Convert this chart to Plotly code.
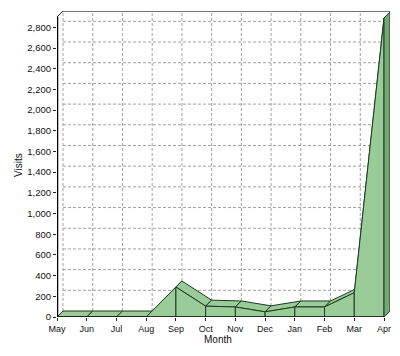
import plotly.graph_objects as go

months = ["May", "Jun", "Jul", "Aug", "Sep", "Oct", "Nov", "Dec", "Jan", "Feb", "Mar", "Apr"]
visits = [0, 0, 0, 0, 290, 105, 97, 50, 97, 97, 235, 2890]
y_ticks = list(range(0, 2801, 200))
y_max = 2900

# page body has an 8px margin, so the figure is drawn 8px in from the window
OFF = 8
W, H = 400 - 2 * OFF, 356 - 2 * OFF
L, R, T, B = 57 - OFF, W - (390 - OFF), 11 - OFF, H - (317 - OFF)
DEPTH_PX = 6

n = len(months)
plot_w = W - L - R
plot_h = H - T - B
px_per_x = (plot_w - DEPTH_PX) / (n - 1)
px_per_y = (plot_h - DEPTH_PX) / y_max
dx = DEPTH_PX / px_per_x
dy = DEPTH_PX / px_per_y

FILL = "#99cc99"
SIDE = "#72a872"
EDGE = "#1e3a1e"
GRID = "#a0a0a0"

fig = go.Figure()

def poly(xs, ys, color):
    fig.add_trace(go.Scatter(
        x=xs + [xs[0]], y=ys + [ys[0]], mode="lines", fill="toself",
        fillcolor=color, line=dict(color=EDGE, width=1),
        hoverinfo="skip", showlegend=False))

# top faces
for i in range(n - 1):
    a, b = visits[i], visits[i + 1]
    poly([i, i + 1, i + 1 + dx, i + dx], [a, b, b + dy, a + dy], FILL)
# front faces
for i in range(n - 1):
    a, b = visits[i], visits[i + 1]
    poly([i, i, i + 1, i + 1], [0, a, b, 0], FILL)
# right end face
last = visits[-1]
poly([n - 1, n - 1, n - 1 + dx, n - 1 + dx], [0, last, last + dy, dy], SIDE)

shapes = []
dash = "3px,2px"
# back wall grid
for v in y_ticks[1:]:
    shapes.append(dict(type="line", layer="below", x0=dx, x1=n - 1 + dx, y0=v + dy, y1=v + dy,
                       line=dict(color=GRID, width=1, dash=dash)))
for i in range(0, n - 1):
    shapes.append(dict(type="line", layer="below", x0=i + dx, x1=i + dx, y0=dy, y1=y_max + dy,
                       line=dict(color=GRID, width=1, dash=dash)))
shapes.append(dict(type="line", layer="below", x0=n - 1 + dx, x1=n - 1 + dx, y0=dy, y1=y_max + dy,
                   line=dict(color="#333333", width=1, dash="2px,1px")))
# top edge of wall
shapes.append(dict(type="line", layer="below", x0=dx, x1=n - 1 + dx, y0=y_max + dy, y1=y_max + dy,
                   line=dict(color="#444444", width=1.5)))
# left wall edge
shapes.append(dict(type="line", layer="above", x0=0, x1=0, y0=0, y1=y_max,
                   line=dict(color="#000000", width=2.5)))
shapes.append(dict(type="line", layer="above", x0=0, x1=dx, y0=y_max, y1=y_max + dy,
                   line=dict(color="#222222", width=1)))
# front bottom edge
shapes.append(dict(type="line", layer="above", x0=0, x1=n - 1, y0=0, y1=0,
                   line=dict(color="#1a1a1a", width=1.5)))

font_family = "Liberation Sans, Arial, sans-serif"

fig.update_layout(
    width=W, height=H,
    margin=dict(l=L, r=R, t=T, b=B, pad=0, autoexpand=False),
    paper_bgcolor="white", plot_bgcolor="white",
    shapes=shapes,
    font=dict(family=font_family, size=9, color="#111111"),
    xaxis=dict(range=[0, n - 1 + dx], tickmode="array", tickvals=list(range(n)), ticktext=months,
               showgrid=False, zeroline=False, showline=False, ticks="outside", ticklen=3,
               tickcolor="#222222", fixedrange=True, tickfont=dict(size=9), automargin=False),
    yaxis=dict(range=[0, y_max + dy], tickmode="array", tickvals=y_ticks,
               ticktext=[f"{v:,}" for v in y_ticks],
               showgrid=False, zeroline=False, showline=False, ticks="outside", ticklen=3,
               tickcolor="#222222", fixedrange=True, tickfont=dict(size=9.5), automargin=False),
    annotations=[
        dict(text="Month", xref="paper", yref="paper", x=(218 - OFF - L) / plot_w,
             y=-(339 - OFF - (H - B)) / plot_h,
             showarrow=False, font=dict(size=10), xanchor="center", yanchor="middle"),
        dict(text="Visits", xref="paper", yref="paper", x=(18 - OFF - L) / plot_w,
             y=(H - B - (165 - OFF)) / plot_h,
             showarrow=False, font=dict(size=10), textangle=-90, xanchor="center", yanchor="middle"),
    ],
)

fig.write_html("out.html")
